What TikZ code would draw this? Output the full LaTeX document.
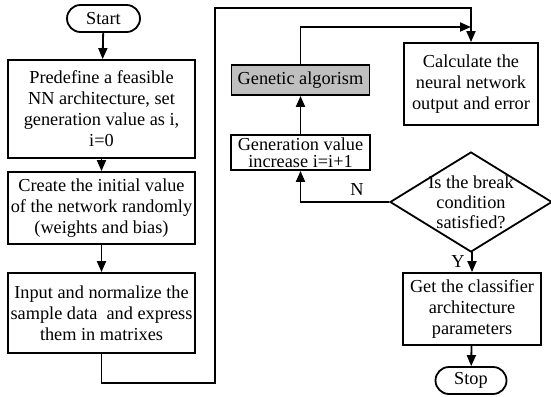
\documentclass[tikz,border=0pt]{standalone}
\usepackage{fontspec}
\setmainfont{Liberation Serif}
\usetikzlibrary{shapes.geometric,shapes.misc,arrows.meta}
\begin{document}
\begin{tikzpicture}[x=1pt,y=-1pt, line width=1.8pt,
  txt/.style={font=\fontsize{18.3}{21}\selectfont, align=center},
  box/.style={txt, draw, rectangle, inner sep=0pt},
  term/.style={txt, draw, rounded rectangle, inner sep=0pt},
  arr/.style={-{Triangle[length=11pt,width=9pt]}}]
\useasboundingbox (0,0) rectangle (551,396);
% terminals
\node[term, minimum width=73, minimum height=27] (start) at (103.5,18.5) {Start};
\node[term, minimum width=71, minimum height=27] (stop) at (471,380.5) {Stop};
% left column
\node[box, minimum width=187, minimum height=98] (b1) at (101.5,109)
  {Predefine a feasible\\NN architecture, set\\generation value as i,\\i=0};
\node[box, minimum width=187, minimum height=72] (b2) at (101.5,208)
  {Create the initial value\\of the network randomly\\(weights and bias)};
\node[box, minimum width=187, minimum height=80] (b3) at (101.5,313)
  {Input and normalize the\\sample data\ \ and express\\them in matrixes};
% middle column
\node[box, fill=black!25, minimum width=138, minimum height=30] (gen) at (300.5,80) {Genetic algorism};
\node[box, font=\fontsize{18.3}{17.5}\selectfont, minimum width=139, minimum height=35] (gv) at (300.5,152.5)
  {Generation value\\increase i=i+1};
% right column
\node[box, minimum width=134, minimum height=82] (calc) at (471,84)
  {Calculate the\\neural network\\output and error};
\node[draw, diamond, minimum width=162, minimum height=100, inner sep=0pt] (dec) at (471,202) {};
\node[txt, font=\fontsize{18.3}{20}\selectfont] (dectxt) at (471,202) {Is the break\\condition\\satisfied?};
\node[box, minimum width=138, minimum height=72] (cls) at (472,309)
  {Get the classifier\\architecture\\parameters};
% helper coordinates
\coordinate (low) at (215,383);
\coordinate (top) at (0,8);
\coordinate (mid) at (0,27);
% connectors
\draw[arr] (start) -- (b1);
\draw[arr] (b1) -- (b2);
\draw[arr] (b2) -- (b3);
\draw[arr] (b3.south) -- (b3.south |- low) -- (low) -- (low |- top) -- (calc.north |- top) -- (calc.north);
\draw[arr] (gen.north) -- (gen.north |- mid) -- (calc.north |- mid);
\draw[arr] (gv) -- (gen);
\draw[arr] (dec.west) -| (gv.south);
\draw[arr] (dec.south) -- (dec.south -| cls.north) -- (cls.north);
\draw[arr] (cls) -- (stop);
% labels
\node[txt] (nlab) at (357,190) {N};
\node[txt] (ylab) at (458,262) {Y};
\end{tikzpicture}
\end{document}
